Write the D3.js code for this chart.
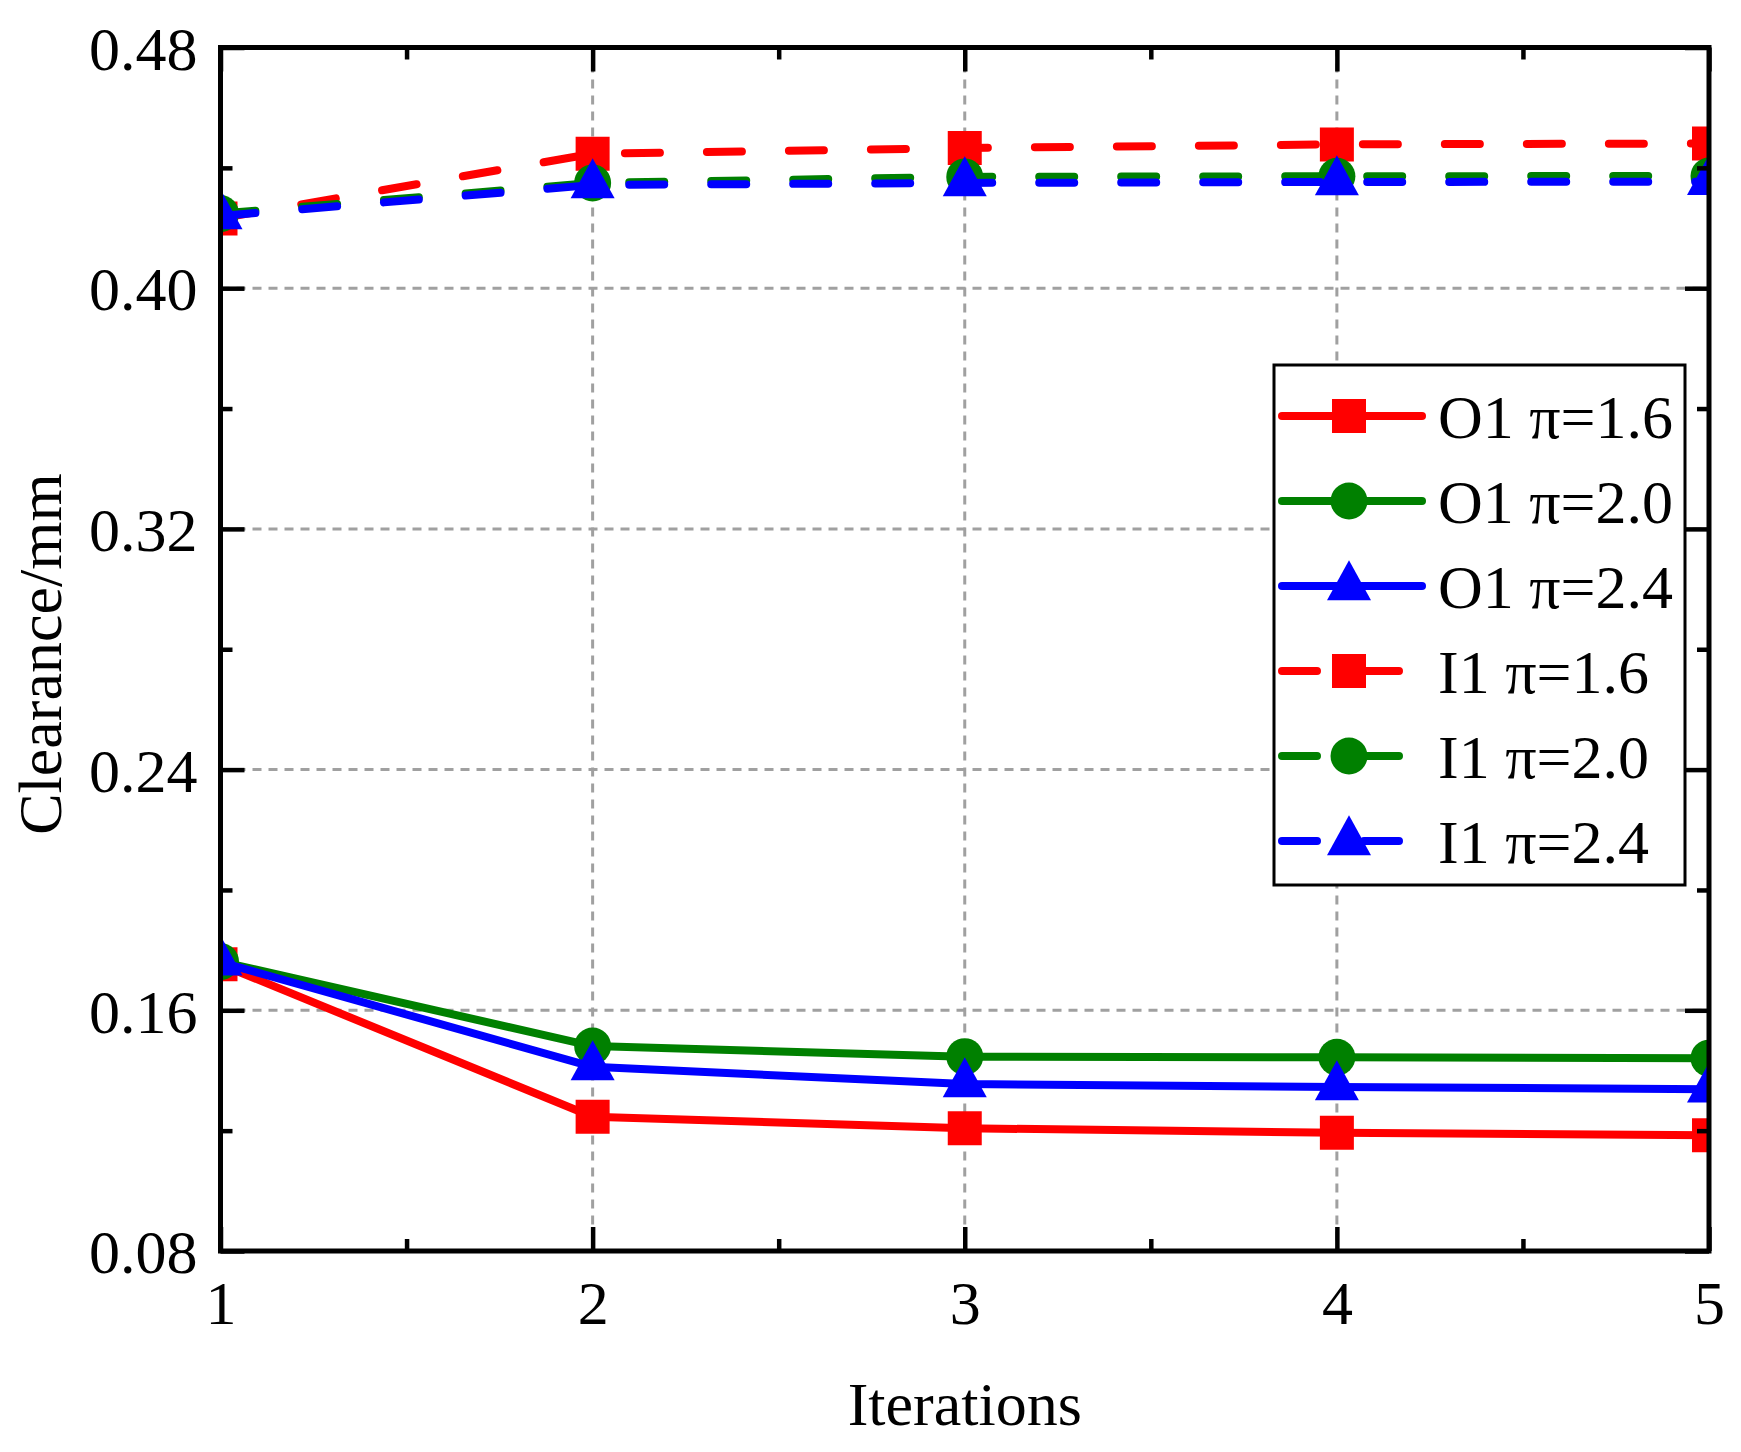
<!DOCTYPE html>
<html>
<head>
<meta charset="utf-8">
<script src="https://cdn.jsdelivr.net/npm/d3@7"></script>
<style>
  html, body { margin: 0; padding: 0; background: #fff; }
  svg { display: block; }
  text { font-family: "Liberation Serif", "Times New Roman", serif; fill: #000; }
</style>
</head>
<body>
<svg id="chart" width="1741" height="1452"></svg>
<script>
// ---------------- data ----------------
const iterations = [1, 2, 3, 4, 5];
const xTickLabels = ["1", "2", "3", "4", "5"];
const yTickValues = [0.08, 0.16, 0.24, 0.32, 0.40, 0.48];
const yMinorValues = [0.12, 0.20, 0.28, 0.36, 0.44];
const xMinorValues = [1.5, 2.5, 3.5, 4.5];

const seriesNames = ["O1 \u03c0=1.6", "O1 \u03c0=2.0", "O1 \u03c0=2.4", "I1 \u03c0=1.6", "I1 \u03c0=2.0", "I1 \u03c0=2.4"];
const O1_pi16 = [0.1753, 0.1246, 0.1208, 0.1193, 0.1185];
const O1_pi20 = [0.1762, 0.1481, 0.1446, 0.1444, 0.1441];
const O1_pi24 = [0.1760, 0.1412, 0.1355, 0.1345, 0.1338];
const I1_pi16 = [0.4232, 0.4447, 0.4466, 0.4478, 0.4481];
const I1_pi20 = [0.4248, 0.4350, 0.4370, 0.4372, 0.4373];
const I1_pi24 = [0.4240, 0.4343, 0.4350, 0.4353, 0.4354];

const seriesValues = [O1_pi16, O1_pi20, O1_pi24, I1_pi16, I1_pi20, I1_pi24];
const seriesColors = ["#ff0000", "#008000", "#0000ff", "#ff0000", "#008000", "#0000ff"];
const seriesShapes = ["square", "circle", "triangle", "square", "circle", "triangle"];
const seriesDashed = [false, false, false, true, true, true];

// ---------------- layout ----------------
const L = 220.5, R = 1709, T = 47.5, B = 1251;
const FONT = 62;
const svg = d3.select("#chart");

const x = d3.scaleLinear().domain([1, 5]).range([L, R]);
const y = d3.scaleLinear().domain([0.08, 0.48]).range([B, T]);

// symbols
const triangleType = {
  draw(ctx) {
    const w = 44, h = 40;
    ctx.moveTo(0, -2 * h / 3);
    ctx.lineTo(w / 2, h / 3);
    ctx.lineTo(-w / 2, h / 3);
    ctx.closePath();
  }
};
function symbolPath(shape) {
  if (shape === "square") return d3.symbol().type(d3.symbolSquare).size(34 * 34)();
  if (shape === "circle") return d3.symbol().type(d3.symbolCircle).size(Math.PI * 18.5 * 18.5)();
  return d3.symbol().type(triangleType)();
}

// clip
svg.append("defs").append("clipPath").attr("id", "plotClip")
  .append("rect").attr("x", L).attr("y", T).attr("width", R - L).attr("height", B - T);

// grid
const grid = svg.append("g").attr("class", "grid")
  .attr("stroke", "#a0a0a0").attr("stroke-width", 3).attr("stroke-dasharray", "9,7");
grid.selectAll("line.h").data(yTickValues.filter(v => v > 0.08 && v < 0.48)).join("line")
  .attr("class", "h").attr("x1", L).attr("x2", R).attr("y1", d => y(d)).attr("y2", d => y(d));
grid.selectAll("line.v").data(iterations.filter(v => v > 1 && v < 5)).join("line")
  .attr("class", "v").attr("y1", T).attr("y2", B).attr("x1", d => x(d)).attr("x2", d => x(d));

// series
const plot = svg.append("g").attr("clip-path", "url(#plotClip)");
const line = d3.line().x((d, i) => x(iterations[i])).y(d => y(d));
seriesValues.forEach((vals, s) => {
  const g = plot.append("g");
  g.append("path").datum(vals)
    .attr("d", line)
    .attr("fill", "none")
    .attr("stroke", seriesColors[s])
    .attr("stroke-width", 8)
    .attr("stroke-linecap", "round")
    .attr("stroke-linejoin", "round")
    .attr("stroke-dasharray", seriesDashed[s] ? "35,47" : null);
  g.selectAll("path.m").data(vals).join("path")
    .attr("class", "m")
    .attr("d", symbolPath(seriesShapes[s]))
    .attr("transform", (d, i) => `translate(${x(iterations[i])},${y(d)})`)
    .attr("fill", seriesColors[s]);
});

// axes
function styleAxis(g) {
  g.select(".domain").remove();
  g.selectAll(".tick line").attr("stroke", "#000").attr("stroke-width", 4.5);
}
// bottom
const axB = svg.append("g").attr("transform", `translate(0,${B})`)
  .call(d3.axisBottom(x).tickValues(iterations).tickFormat((d, i) => xTickLabels[i])
    .tickSizeInner(-24).tickSizeOuter(0));
styleAxis(axB);
axB.selectAll(".tick text").attr("y", 73).attr("dy", null)
  .style("font-size", FONT + "px").style("font-family", "'Liberation Serif', serif").attr("fill", "#000");
svg.append("g").attr("transform", `translate(0,${B})`)
  .call(d3.axisBottom(x).tickValues(xMinorValues).tickFormat("").tickSizeInner(-12).tickSizeOuter(0))
  .call(styleAxis);
// top
svg.append("g").attr("transform", `translate(0,${T})`)
  .call(d3.axisTop(x).tickValues(iterations).tickFormat("").tickSizeInner(-24).tickSizeOuter(0))
  .call(styleAxis);
svg.append("g").attr("transform", `translate(0,${T})`)
  .call(d3.axisTop(x).tickValues(xMinorValues).tickFormat("").tickSizeInner(-12).tickSizeOuter(0))
  .call(styleAxis);
// left
const axL = svg.append("g").attr("transform", `translate(${L},0)`)
  .call(d3.axisLeft(y).tickValues(yTickValues).tickFormat(d3.format(".2f"))
    .tickSizeInner(-24).tickSizeOuter(0));
styleAxis(axL);
axL.selectAll(".tick text").attr("x", -23).attr("dy", "0.35em")
  .style("font-size", FONT + "px").style("font-family", "'Liberation Serif', serif").attr("fill", "#000");
svg.append("g").attr("transform", `translate(${L},0)`)
  .call(d3.axisLeft(y).tickValues(yMinorValues).tickFormat("").tickSizeInner(-12).tickSizeOuter(0))
  .call(styleAxis);
// right
svg.append("g").attr("transform", `translate(${R},0)`)
  .call(d3.axisRight(y).tickValues(yTickValues).tickFormat("").tickSizeInner(-24).tickSizeOuter(0))
  .call(styleAxis);
svg.append("g").attr("transform", `translate(${R},0)`)
  .call(d3.axisRight(y).tickValues(yMinorValues).tickFormat("").tickSizeInner(-12).tickSizeOuter(0))
  .call(styleAxis);

// frame
svg.append("rect").attr("x", L).attr("y", T).attr("width", R - L).attr("height", B - T)
  .attr("fill", "none").attr("stroke", "#000").attr("stroke-width", 5);

// axis titles
svg.append("text").attr("x", (L + R) / 2).attr("y", 1425).attr("text-anchor", "middle")
  .style("font-size", FONT + "px").text("Iterations");
svg.append("text").attr("transform", `translate(61,654) rotate(-90)`).attr("text-anchor", "middle")
  .style("font-size", FONT + "px").text("Clearance/mm");

// legend
const lg = svg.append("g");
lg.append("rect").attr("x", 1274).attr("y", 365).attr("width", 411).attr("height", 520)
  .attr("fill", "#fff").attr("stroke", "#000").attr("stroke-width", 3);
seriesNames.forEach((name, s) => {
  const cy = 416 + s * 85;
  lg.append("line")
    .attr("x1", 1282).attr("x2", seriesDashed[s] ? 1400 : 1422)
    .attr("y1", cy).attr("y2", cy)
    .attr("stroke", seriesColors[s]).attr("stroke-width", 8)
    .attr("stroke-linecap", "round")
    .attr("stroke-dasharray", seriesDashed[s] ? "35,47" : null);
  lg.append("path").attr("d", symbolPath(seriesShapes[s]))
    .attr("transform", `translate(1349,${seriesShapes[s] === "triangle" ? cy + 1 : cy})`)
    .attr("fill", seriesColors[s]);
  lg.append("text").attr("x", 1438).attr("y", cy + 22)
    .style("font-size", FONT + "px").text(name);
});
</script>
</body>
</html>
